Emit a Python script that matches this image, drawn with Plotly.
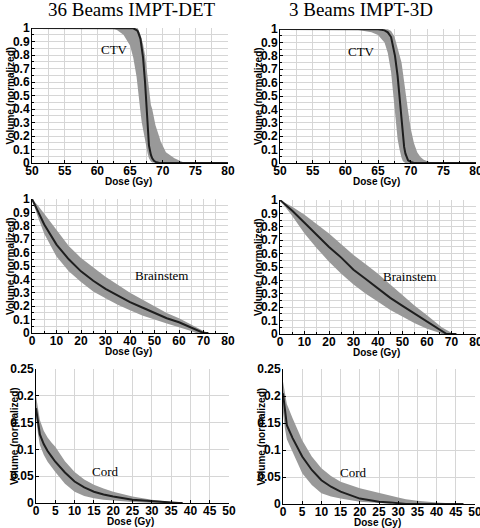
import plotly.graph_objects as go

# ---------------- data ----------------
# CTV, 36 beams IMPT-DET
ctv36_dose  = [50, 62, 63, 64, 65, 65.5, 66, 66.2, 66.6, 66.8, 67.0, 67.3, 67.4, 67.7, 67.9, 68.2, 68.4, 68.7, 68.9, 69.5, 69.7, 70.5, 71.8, 73.4, 80]
ctv36_mean  = [1, 1, 1, 1, 1, 0.998, 0.985, 0.975, 0.92, 0.86, 0.78, 0.6, 0.53, 0.28, 0.13, 0.06, 0.035, 0.015, 0.008, 0, 0, 0, 0, 0, 0]
ctv36_lower = [1, 1, 0.985, 0.95, 0.87, 0.78, 0.64, 0.53, 0.38, 0.3, 0.25, 0.17, 0.14, 0.07, 0.035, 0.012, 0.004, 0, 0, 0, 0, 0, 0, 0, 0]
ctv36_upper = [1, 1, 1, 1, 1, 1, 1, 0.998, 0.95, 0.92, 0.88, 0.8, 0.76, 0.63, 0.55, 0.43, 0.4, 0.33, 0.28, 0.19, 0.16, 0.08, 0.035, 0, 0]

# CTV, 3 beams IMPT-3D
ctv3_dose  = [50, 58, 60, 62, 64, 65, 66, 66.5, 67, 67.3, 67.5, 67.6, 68, 68.3, 68.4, 68.5, 68.6, 68.8, 68.9, 69, 69.2, 69.5, 69.6, 70, 70.4, 70.5, 71, 71.5, 72, 72.5, 73, 73.5, 80]
ctv3_mean  = [1, 1, 1, 1, 1, 0.998, 0.99, 0.975, 0.94, 0.88, 0.84, 0.8, 0.65, 0.5, 0.44, 0.38, 0.32, 0.21, 0.16, 0.12, 0.07, 0.03, 0.02, 0.008, 0, 0, 0, 0, 0, 0, 0, 0, 0]
ctv3_lower = [1, 1, 0.998, 0.993, 0.975, 0.955, 0.9, 0.82, 0.68, 0.53, 0.44, 0.36, 0.18, 0.1, 0.07, 0.06, 0.04, 0.015, 0.01, 0.006, 0, 0, 0, 0, 0, 0, 0, 0, 0, 0, 0, 0, 0]
ctv3_upper = [1, 1, 1, 1, 1, 1, 1, 0.998, 0.985, 0.965, 0.945, 0.93, 0.86, 0.8, 0.79, 0.78, 0.75, 0.68, 0.64, 0.6, 0.53, 0.42, 0.39, 0.26, 0.17, 0.15, 0.08, 0.045, 0.025, 0.012, 0.005, 0, 0]

# Brainstem, 36 beams IMPT-DET
bs36_dose  = [0, 2.5, 5, 10, 15, 20, 25, 30, 35, 40, 45, 50, 55, 60, 65, 67, 69, 70, 72]
bs36_mean  = [1, 0.9, 0.81, 0.66, 0.55, 0.46, 0.39, 0.33, 0.28, 0.23, 0.19, 0.15, 0.11, 0.08, 0.04, 0.02, 0.005, 0, 0]
bs36_lower = [1, 0.86, 0.74, 0.57, 0.46, 0.38, 0.31, 0.26, 0.21, 0.17, 0.13, 0.1, 0.07, 0.04, 0.015, 0, 0, 0, 0]
bs36_upper = [1, 0.95, 0.89, 0.77, 0.65, 0.56, 0.49, 0.42, 0.36, 0.3, 0.25, 0.2, 0.15, 0.11, 0.06, 0.04, 0.02, 0.015, 0]

# Brainstem, 3 beams IMPT-3D
bs3_dose  = [0, 5, 10, 15, 20, 25, 30, 35, 40, 45, 50, 55, 60, 65, 66, 68, 70, 72]
bs3_mean  = [1, 0.92, 0.83, 0.74, 0.65, 0.57, 0.48, 0.41, 0.34, 0.27, 0.21, 0.15, 0.09, 0.03, 0.02, 0, 0, 0]
bs3_lower = [1, 0.88, 0.75, 0.64, 0.54, 0.45, 0.37, 0.3, 0.24, 0.18, 0.13, 0.08, 0.04, 0.01, 0, 0, 0, 0]
bs3_upper = [1, 0.95, 0.89, 0.82, 0.75, 0.67, 0.59, 0.52, 0.45, 0.37, 0.29, 0.21, 0.14, 0.06, 0.05, 0.03, 0.01, 0]

# Cord, 36 beams IMPT-DET
cd36_dose  = [0, 0.5, 1, 2, 3, 4, 5, 7.5, 10, 12.5, 15, 17.5, 20, 25, 30, 35, 37, 38]
cd36_mean  = [0.177, 0.15, 0.128, 0.11, 0.097, 0.087, 0.077, 0.057, 0.04, 0.029, 0.021, 0.016, 0.012, 0.006, 0.003, 0.001, 0, 0]
cd36_lower = [0.16, 0.13, 0.108, 0.09, 0.077, 0.067, 0.058, 0.036, 0.021, 0.013, 0.009, 0.006, 0.004, 0.002, 0, 0, 0, 0]
cd36_upper = [0.2, 0.175, 0.155, 0.135, 0.122, 0.113, 0.105, 0.078, 0.058, 0.044, 0.034, 0.027, 0.021, 0.012, 0.006, 0.002, 0.001, 0]

# Cord, 3 beams IMPT-3D
cd3_dose  = [0, 0.5, 1, 2.5, 5, 7.5, 10, 12.5, 15, 20, 25, 28, 30, 32, 35, 40, 45, 47]
cd3_mean  = [0.205, 0.17, 0.146, 0.122, 0.088, 0.063, 0.044, 0.032, 0.023, 0.01, 0.004, 0.003, 0.002, 0, 0, 0, 0, 0]
cd3_lower = [0.17, 0.14, 0.12, 0.095, 0.057, 0.035, 0.02, 0.014, 0.01, 0.004, 0.002, 0, 0, 0, 0, 0, 0, 0]
cd3_upper = [0.227, 0.205, 0.185, 0.159, 0.118, 0.088, 0.066, 0.052, 0.041, 0.029, 0.02, 0.015, 0.012, 0.009, 0.006, 0.003, 0.001, 0]

col_titles = ["36 Beams IMPT-DET", "3 Beams IMPT-3D"]
structure_labels = ["CTV", "Brainstem", "Cord"]

# ---------------- layout geometry (pixels of a 480x528 canvas) ----------------
W, H = 480, 528
panels = [
    (ctv36_dose, ctv36_mean, ctv36_lower, ctv36_upper, (32, 228), (28, 163), [50, 80], 5, 2.5, [0, 1], 0.1, 0.05, "CTV", (62.7, 0.84)),
    (ctv3_dose, ctv3_mean, ctv3_lower, ctv3_upper, (280, 476), (29, 163), [50, 80], 5, 2.5, [0, 1], 0.1, 0.05, "CTV", (62.5, 0.83)),
    (bs36_dose, bs36_mean, bs36_lower, bs36_upper, (32, 228), (199, 333), [0, 80], 10, 5, [0, 1], 0.1, 0.05, "Brainstem", (53, 0.43)),
    (bs3_dose, bs3_mean, bs3_lower, bs3_upper, (280, 476), (200, 334), [0, 80], 10, 5, [0, 1], 0.1, 0.05, "Brainstem", (53, 0.43)),
    (cd36_dose, cd36_mean, cd36_lower, cd36_upper, (36, 229), (369, 503), [0, 50], 5, None, [0, 0.25], 0.05, None, "Cord", (18.1, 0.058)),
    (cd3_dose, cd3_mean, cd3_lower, cd3_upper, (283, 475), (369, 504), [0, 50], 5, None, [0, 0.25], 0.05, None, "Cord", (18.3, 0.058)),
]

fig = go.Figure()
BAND = "#999999"
LINE = "#1e1e1e"
GRID = "#d6d6d6"
tickfont = dict(family="Liberation Sans, Arial", size=12, color="black", weight="bold")
annots = []

for i, (dose, mean, lower, upper, xb, yb, xr, xdt, xmin, yr, ydt, ymin, lab, lpos) in enumerate(panels):
    k = "" if i == 0 else str(i + 1)
    xa, ya = "x" + k, "y" + k
    fig.add_trace(go.Scatter(
        x=list(dose) + list(dose)[::-1], y=list(upper) + list(lower)[::-1],
        fill="toself", fillcolor=BAND, line=dict(width=0), mode="lines",
        xaxis=xa, yaxis=ya, showlegend=False, hoverinfo="skip"))
    fig.add_trace(go.Scatter(
        x=dose, y=mean, mode="lines", line=dict(color=LINE, width=2),
        xaxis=xa, yaxis=ya, showlegend=False))
    xdom = [xb[0] / W, xb[1] / W]
    ydom = [1 - yb[1] / H, 1 - yb[0] / H]
    xax = dict(domain=xdom, range=xr, dtick=xdt, tick0=0, showgrid=True, gridcolor=GRID,
               gridwidth=1, zeroline=False, showline=True, linecolor="black", linewidth=1,
               ticks="inside", ticklen=3, tickcolor="black", tickfont=tickfont,
               anchor=ya, fixedrange=True, automargin=False, ticklabeloverflow="allow",
               ticklabelstandoff=-3)
    if xmin:
        xax["minor"] = dict(dtick=xmin, showgrid=True, gridcolor=GRID, ticks="inside", ticklen=2, tickcolor="black")
    yax = dict(domain=ydom, range=yr, dtick=ydt, tick0=0, showgrid=True, gridcolor=GRID,
               gridwidth=1, zeroline=False, showline=True, linecolor="black", linewidth=1,
               ticks="inside", ticklen=3, tickcolor="black", tickfont=tickfont,
               anchor=xa, fixedrange=True, automargin=False, ticklabeloverflow="allow",
               ticklabelstandoff=-1)
    if ymin:
        yax["minor"] = dict(dtick=ymin, showgrid=True, gridcolor=GRID, ticks="inside", ticklen=2, tickcolor="black")
    fig.layout["xaxis" + k] = xax
    fig.layout["yaxis" + k] = yax

    # structure label
    annots.append(dict(x=lpos[0], y=lpos[1], xref=xa, yref=ya, text=lab, showarrow=False,
                       font=dict(family="Liberation Serif, Times New Roman", size=13, color="black")))
    # axis titles
    xc = (xb[0] + xb[1]) / 2
    annots.append(dict(x=(xc - 2) / W, y=1 - (yb[1] + 18.5) / H, xref="paper", yref="paper",
                       text="Dose (Gy)", showarrow=False, xanchor="center", yanchor="middle",
                       font=dict(family="Liberation Sans, Arial", size=10, color="black", weight="bold")))
    yc = (yb[0] + yb[1]) / 2
    annots.append(dict(x=(xb[0] - 22) / W, y=1 - yc / H, xref="paper", yref="paper",
                       text="Volume (normalized)", showarrow=False, textangle=-90,
                       xanchor="center", yanchor="middle",
                       font=dict(family="Liberation Sans, Arial", size=10, color="black", weight="bold")))

# column titles
for cx, t in zip([132, 361], col_titles):
    annots.append(dict(x=cx / W, y=1 - 10 / H, xref="paper", yref="paper", text=t,
                       showarrow=False, xanchor="center", yanchor="middle",
                       font=dict(family="Liberation Serif, Times New Roman", size=19, color="black")))

fig.update_layout(width=W, height=H, margin=dict(l=0, r=0, t=0, b=0, autoexpand=False),
                  paper_bgcolor="white", plot_bgcolor="white", annotations=annots,
                  showlegend=False)
fig.write_html("out.html", config={"displayModeBar": False},
               post_script="document.body.style.margin='0';document.body.style.overflow='hidden';")
